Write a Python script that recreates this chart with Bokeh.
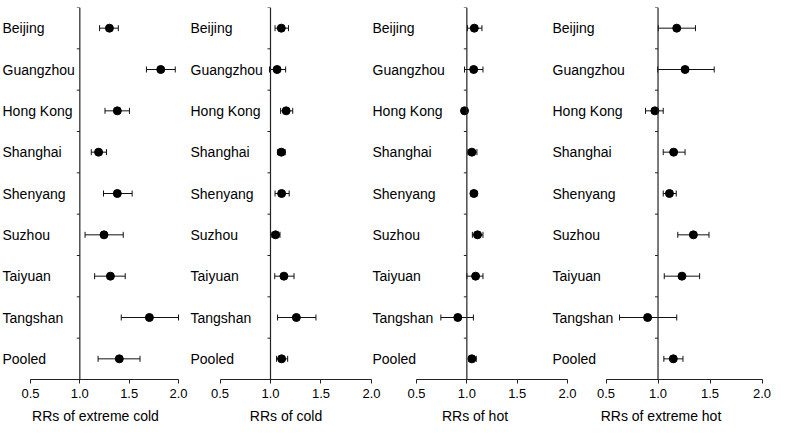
import math
from bokeh.plotting import figure
from bokeh.layouts import row
from bokeh.models import (Range1d, ColumnDataSource, Whisker, TeeHead, Span,
                          FixedTicker, PrintfTickFormatter)
from bokeh.core.properties import value
from bokeh.embed import file_html
from bokeh.resources import INLINE

cities = ["Beijing", "Guangzhou", "Hong Kong", "Shanghai", "Shenyang",
          "Suzhou", "Taiyuan", "Tangshan", "Pooled"]
ticks = [0.5, 1.0, 1.5, 2.0]

titles = ["RRs of extreme cold", "RRs of cold", "RRs of hot", "RRs of extreme hot"]

ext_cold_rr = [1.30, 1.82, 1.38, 1.19, 1.38, 1.245, 1.31, 1.705, 1.40]
ext_cold_lo = [1.20, 1.675, 1.255, 1.116, 1.24, 1.053, 1.15, 1.42, 1.185]
ext_cold_hi = [1.39, 1.967, 1.503, 1.27, 1.53, 1.44, 1.46, 2.00, 1.61]

cold_rr = [1.107, 1.065, 1.155, 1.107, 1.11, 1.05, 1.133, 1.256, 1.11]
cold_lo = [1.045, 0.99, 1.10, 1.07, 1.045, 1.006, 1.042, 1.07, 1.06]
cold_hi = [1.178, 1.15, 1.22, 1.146, 1.185, 1.094, 1.233, 1.45, 1.17]

hot_rr = [1.074, 1.068, 0.977, 1.05, 1.07, 1.106, 1.087, 0.91, 1.05]
hot_lo = [1.006, 0.977, 0.955, 1.01, 1.04, 1.055, 1.0, 0.742, 1.02]
hot_hi = [1.15, 1.16, 1.006, 1.10, 1.10, 1.16, 1.16, 1.065, 1.094]

ext_hot_rr = [1.18, 1.26, 0.97, 1.15, 1.11, 1.34, 1.23, 0.90, 1.147]
ext_hot_lo = [1.003, 0.997, 0.88, 1.05, 1.05, 1.19, 1.06, 0.63, 1.056]
ext_hot_hi = [1.36, 1.54, 1.05, 1.26, 1.175, 1.49, 1.40, 1.18, 1.24]

series = [
    (ext_cold_rr, ext_cold_lo, ext_cold_hi),
    (cold_rr, cold_lo, cold_hi),
    (hot_rr, hot_lo, hot_hi),
    (ext_hot_rr, ext_hot_lo, ext_hot_hi),
]

# layout: (width, x start, x end, overlap with previous panel in px)
panels = [(190, 0.196, 2.1216, 0), (195, 0.188, 2.119, 2),
          (209, 0.043, 2.119, 13), (221, -0.0337, 2.091, 29)]

FONT = "Liberation Sans"
n = len(cities)
ypos = [n - 1 - i for i in range(n)]
bounds = [k + 0.5 for k in range(n)]

figs = []
for (w, xs, xe, ov), (rr, lo, hi), title in zip(panels, series, titles):
    p = figure(width=w, height=426, output_backend="svg", toolbar_location=None,
               x_range=Range1d(xs, xe), y_range=Range1d(-0.5, n - 0.5),
               y_axis_location=None, min_border_left=0, min_border_right=0,
               min_border_top=7, min_border_bottom=0,
               margin=(0, 0, 0, -ov))
    p.grid.visible = False
    p.outline_line_color = None
    p.background_fill_color = None
    p.border_fill_color = None

    # reference line at RR = 1 with category ticks
    p.add_layout(Span(location=1.0, dimension="height", line_color="#222222", line_width=1.2))
    p.ray(x=[1.0] * len(bounds), y=bounds, length=3, length_units="screen",
          angle=math.pi, line_color="#222222", line_width=1)

    src = ColumnDataSource(dict(y=ypos, rr=rr, lo=lo, hi=hi))
    wk = Whisker(base="y", lower="lo", upper="hi", dimension="width", source=src,
                 line_color="#111111", line_width=1,
                 lower_head=TeeHead(size=6, line_color="#111111", line_width=1),
                 upper_head=TeeHead(size=6, line_color="#111111", line_width=1))
    p.add_layout(wk)
    p.scatter(x="rr", y="y", source=src, size=8, color="black")

    p.text(x=[xs] * n, y=ypos, text=cities, x_offset=2,
           text_font=value(FONT), text_font_size="14px", text_baseline="middle",
           text_align="left", text_color="black")

    ax = p.xaxis[0]
    ax.bounds = (0.5, 2.0)
    ax.ticker = FixedTicker(ticks=ticks)
    ax.formatter = PrintfTickFormatter(format="%.1f")
    ax.major_tick_in = 0
    ax.major_tick_out = 4
    ax.minor_tick_line_color = None
    ax.axis_line_color = "#222222"
    ax.major_tick_line_color = "#222222"
    ax.major_label_text_font = FONT
    ax.major_label_text_font_size = "13px"
    ax.major_label_text_color = "black"
    ax.major_label_standoff = 5
    ax.axis_label = title
    ax.axis_label_text_font = FONT
    ax.axis_label_text_font_size = "14px"
    ax.axis_label_text_font_style = "normal"
    ax.axis_label_text_color = "black"
    ax.axis_label_standoff = 7
    figs.append(p)

layout = row(*figs, spacing=0)
open("out.html", "w").write(file_html(layout, INLINE))
